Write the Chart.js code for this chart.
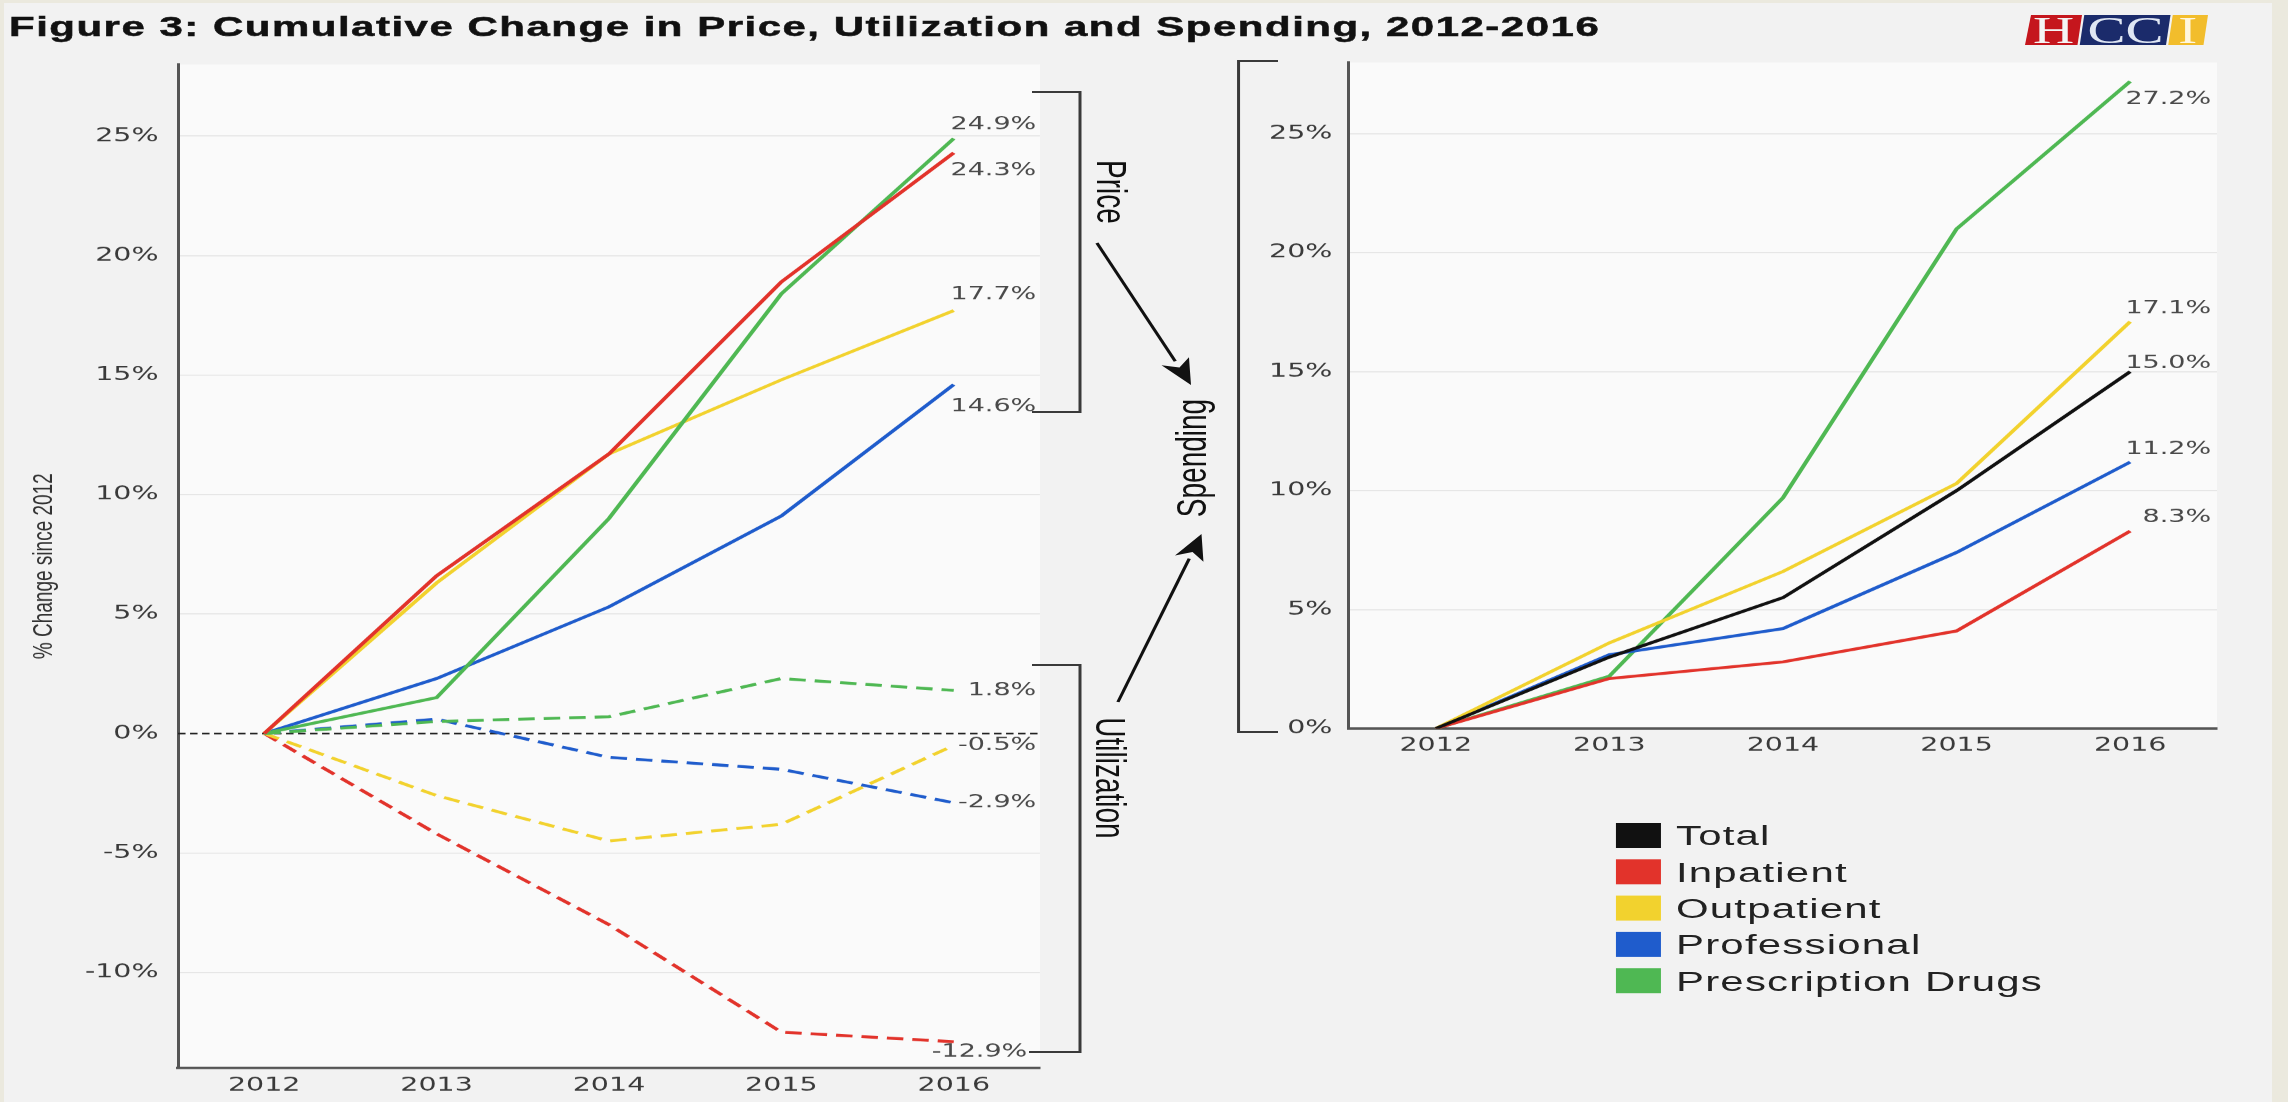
<!DOCTYPE html>
<html>
<head>
<meta charset="utf-8">
<title>Cumulative Change in Price, Utilization and Spending, 2012-2016</title>
<script src="https://cdn.jsdelivr.net/npm/chart.js@4.4.1/dist/chart.umd.min.js"></script>
<style>
  html, body { margin: 0; padding: 0; }
  body { width: 2288px; height: 1102px; overflow: hidden; position: relative; background: #ebe9de; }
  #panel { position: absolute; left: 4px; top: 3px; width: 2268px; height: 1099px; background: #f2f2f2; }
  /* the whole figure is drawn 1.5x wider than its natural size */
  #stage { position: absolute; left: 0; top: 0; width: 1526px; height: 1102px; transform: scaleX(1.5); transform-origin: 0 0; }
  #notes { position: absolute; left: 0; top: 0; }
</style>
</head>
<body>
<div id="panel"></div>
<div id="stage">
  <canvas id="priceUtil" width="720" height="1062" style="position:absolute;left:0;top:40px"></canvas>
  <canvas id="spending" width="690" height="740" style="position:absolute;left:820px;top:40px"></canvas>
  <svg id="notes" width="1526" height="1102" xmlns="http://www.w3.org/2000/svg"></svg>
</div>
<script>
// categories
const years = ['2012', '2013', '2014', '2015', '2016'];
const seriesNames = ['Total', 'Inpatient', 'Outpatient', 'Professional', 'Prescription Drugs'];

// price (solid) and utilization (dashed), % change since 2012
const priceInpatient    = [0, 6.6, 11.7, 18.9, 24.3];
const priceOutpatient   = [0, 6.3, 11.7, 14.8, 17.7];
const priceProfessional = [0, 2.3, 5.3, 9.1, 14.6];
const priceDrugs        = [0, 1.5, 9.0, 18.4, 24.9];
const utilInpatient     = [0, -4.2, -8.0, -12.5, -12.9];
const utilOutpatient    = [0, -2.6, -4.5, -3.8, -0.5];
const utilProfessional  = [0, 0.6, -1.0, -1.5, -2.9];
const utilDrugs         = [0, 0.5, 0.7, 2.3, 1.8];

// spending, % change since 2012
const spendTotal        = [0, 3.0, 5.5, 10.0, 15.0];
const spendInpatient    = [0, 2.1, 2.8, 4.1, 8.3];
const spendOutpatient   = [0, 3.6, 6.6, 10.3, 17.1];
const spendProfessional = [0, 3.1, 4.2, 7.4, 11.2];
const spendDrugs        = [0, 2.2, 9.7, 21.0, 27.2];

// axis ranges and tick step
const leftRange = [-14, 28];
const rightRange = [0, 28];
const tickStep = 5;

const colors = {
  'Total': '#111111',
  'Inpatient': '#e2332b',
  'Outpatient': '#f2d22e',
  'Professional': '#1f5ccc',
  'Prescription Drugs': '#4fb853'
};

const tickFont = { family: '"DejaVu Sans", Verdana, sans-serif', size: 19 };

// light plot background
const plotBg = {
  id: 'plotBg',
  beforeDraw(chart) {
    const { ctx, chartArea } = chart;
    ctx.save();
    ctx.fillStyle = '#fafafa';
    ctx.fillRect(chartArea.left, chartArea.top, chartArea.right - chartArea.left, chartArea.bottom - chartArea.top);
    ctx.restore();
  }
};

// dashed black line at 0%
const zeroLine = {
  id: 'zeroLine',
  beforeDatasetsDraw(chart) {
    const { ctx, chartArea, scales } = chart;
    const y = scales.y.getPixelForValue(0);
    ctx.save();
    ctx.strokeStyle = '#222';
    ctx.lineWidth = 1.6;
    ctx.setLineDash([5, 3]);
    ctx.beginPath();
    ctx.moveTo(chartArea.left, y);
    ctx.lineTo(chartArea.right, y);
    ctx.stroke();
    ctx.restore();
  }
};

// value label next to the last point of each line
const endLabels = {
  id: 'endLabels',
  afterDatasetsDraw(chart) {
    const ctx = chart.ctx;
    ctx.save();
    ctx.font = '18px "DejaVu Sans", Verdana, sans-serif';
    ctx.fillStyle = '#4a4a4a';
    ctx.textAlign = 'right';
    ctx.textBaseline = 'middle';
    chart.data.datasets.forEach((ds, i) => {
      const pts = chart.getDatasetMeta(i).data;
      const last = pts[pts.length - 1];
      const v = ds.data[ds.data.length - 1];
      ctx.fillText(v.toFixed(1) + '%', last.x + ds.labelDx, last.y + ds.labelDy);
    });
    ctx.restore();
  }
};

function line(name, data, dashed, dx, dy) {
  return {
    label: name,
    data: data,
    borderColor: colors[name],
    borderWidth: 2.9,
    borderDash: dashed ? [11, 6] : [],
    pointRadius: 0,
    tension: 0,
    fill: false,
    labelDx: dx,
    labelDy: dy
  };
}

function baseOptions(range, yWidth, xHeight, pad, tickPad) {
  return {
    responsive: false,
    devicePixelRatio: 1.5,
    animation: false,
    events: [],
    layout: { padding: pad },
    plugins: { legend: { display: false }, tooltip: { enabled: false } },
    scales: {
      x: {
        type: 'category',
        offset: true,
        grid: { display: false, drawTicks: false },
        border: { display: true, color: '#555', width: 2.5 },
        ticks: { color: '#3a3a3a', font: tickFont, padding: 6 },
        afterFit: s => { s.height = xHeight; }
      },
      y: {
        min: range[0],
        max: range[1],
        grid: {
          drawTicks: false,
          lineWidth: 1,
          color: c => (c.tick && c.tick.value === 0 ? 'rgba(0,0,0,0)' : '#e4e4e4')
        },
        border: { display: true, color: '#555', width: 2 },
        ticks: {
          stepSize: tickStep,
          includeBounds: false,
          color: '#3a3a3a',
          font: tickFont,
          padding: tickPad,
          callback: v => v + '%'
        },
        afterFit: s => { s.width = yWidth; }
      }
    }
  };
}

// left chart: price and utilization
const leftOpts = baseOptions(leftRange, 118.7, 34, { top: 18, right: 26.7, left: 0, bottom: 0 }, 13);
leftOpts.scales.y.title = {
  display: true,
  text: '% Change since 2012',
  color: '#333',
  font: { family: '"Liberation Sans", Arial, sans-serif', size: 19 },
  padding: { top: 18, bottom: 0 }
};
new Chart(document.getElementById('priceUtil'), {
  type: 'line',
  data: {
    labels: years,
    datasets: [
      line('Inpatient', priceInpatient, false, 55, 18),
      line('Prescription Drugs', priceDrugs, false, 55, -14),
      line('Outpatient', priceOutpatient, false, 55, -16),
      line('Professional', priceProfessional, false, 55, 22),
      line('Prescription Drugs', utilDrugs, true, 55, 0),
      line('Professional', utilProfessional, true, 55, 0),
      line('Outpatient', utilOutpatient, true, 55, 0),
      line('Inpatient', utilInpatient, true, 49, 10)
    ]
  },
  options: leftOpts,
  plugins: [plotBg, zeroLine, endLabels]
});

// right chart: spending
new Chart(document.getElementById('spending'), {
  type: 'line',
  data: {
    labels: years,
    datasets: [
      line('Total', spendTotal, false, 54, -8),
      line('Inpatient', spendInpatient, false, 54, -14),
      line('Outpatient', spendOutpatient, false, 54, -13),
      line('Professional', spendProfessional, false, 54, -13),
      line('Prescription Drugs', spendDrugs, false, 54, 18)
    ]
  },
  options: baseOptions(rightRange, 79.3, 51.5, { top: 20, right: 32, left: 0, bottom: 0 }, 11),
  plugins: [plotBg, endLabels]
});

// title, brackets, arrows, legend and logo
function arrow(x1, y1, x2, y2) {
  const dx = x2 - x1, dy = y2 - y1, len = Math.hypot(dx, dy);
  const ux = dx / len, uy = dy / len;
  const bx = x2 - ux * 26, by = y2 - uy * 26;
  const hw = 10;
  return `<line x1="${x1}" y1="${y1}" x2="${bx}" y2="${by}" stroke="#111" stroke-width="2.2"/>` +
    `<polygon points="${x2},${y2} ${bx - uy * hw},${by + ux * hw} ${x2 - ux * 19},${y2 - uy * 19} ${bx + uy * hw},${by - ux * hw}" fill="#111"/>`;
}

let svg = '';
svg += '<text x="6" y="36" font-family="Liberation Sans, Arial, sans-serif" font-weight="bold" font-size="28" letter-spacing="1" fill="#111" stroke="#111" stroke-width="0.5">' +
  'Figure 3: Cumulative Change in Price, Utilization and Spending, 2012-2016</text>';

// brackets
const br = 'fill="none" stroke="#3a3a3a" stroke-width="2"';
svg += `<polyline points="688,92 720,92 720,412 688,412" ${br}/>`;
svg += `<polyline points="688,665 720,665 720,1052 686,1052" ${br}/>`;
svg += `<polyline points="852,61 825.7,61 825.7,732 852,732" ${br}/>`;

// side texts
const sideFont = 'font-family="Liberation Sans, Arial, sans-serif" font-size="28" fill="#111" text-anchor="middle" dominant-baseline="central"';
svg += `<text x="741" y="192" ${sideFont} transform="rotate(90 741 192)">Price</text>`;
svg += `<text x="740" y="778" ${sideFont} transform="rotate(90 740 778)">Utilization</text>`;
svg += `<text x="794.7" y="458" ${sideFont} transform="rotate(-90 794.7 458)">Spending</text>`;

svg += arrow(731.3, 243, 794, 385);
svg += arrow(745.3, 702, 801, 534);

// legend
seriesNames.forEach((name, i) => {
  const top = 823 + i * 36.3;
  svg += `<rect x="1077.3" y="${top}" width="30" height="25" fill="${colors[name]}"/>`;
  svg += `<text x="1117.3" y="${top + 13}" font-family="Liberation Sans, Arial, sans-serif" font-size="28" letter-spacing="0.8" fill="#222" dominant-baseline="central">${name}</text>`;
});

// HCCI logo
svg += '<g transform="translate(1350,15)">' +
  '<polygon points="4,0 38,0 35,30 0,30" fill="#c5161d"/>' +
  '<polygon points="39.5,0 97,0 94,30 36.5,30" fill="#1b2b6b"/>' +
  '<polygon points="98.5,0 122,0 119,30 95.5,30" fill="#f2bd2c"/>' +
  '<text x="19" y="28" font-family="Liberation Serif, serif" font-size="38" fill="#f4f4f4" text-anchor="middle">H</text>' +
  '<text x="67" y="28" font-family="Liberation Serif, serif" font-size="38" fill="#dfe6f3" text-anchor="middle">CC</text>' +
  '<text x="108.5" y="28" font-family="Liberation Serif, serif" font-size="38" fill="#fff7e0" text-anchor="middle">I</text>' +
  '</g>';

document.getElementById('notes').innerHTML = svg;
</script>
</body>
</html>
